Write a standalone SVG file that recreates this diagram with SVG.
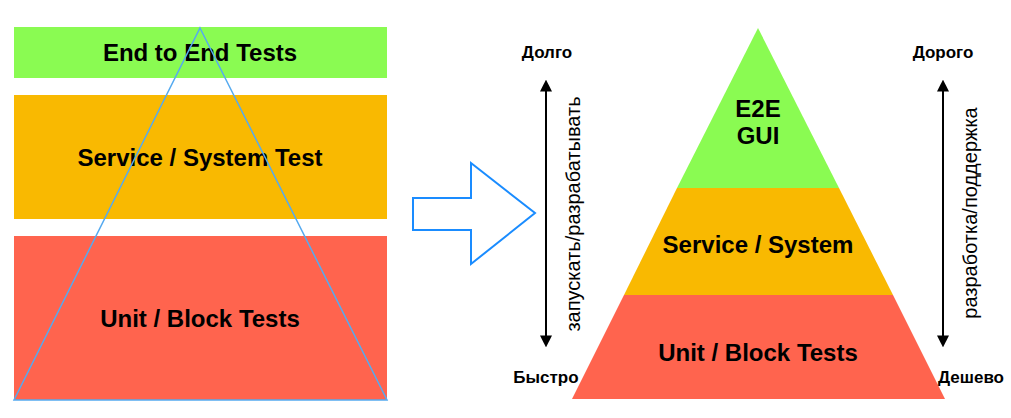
<svg xmlns="http://www.w3.org/2000/svg" width="1011" height="418" viewBox="0 0 1011 418">
<style>
.t{font-family:"Liberation Sans",Arial,sans-serif;font-weight:bold;fill:#000;text-anchor:middle}
.big{font-size:24px}
.lab{font-size:17px}
.rot{font-family:"Liberation Sans",Arial,sans-serif;font-size:20px;fill:#000;text-anchor:middle}
.g{fill:#8afb52}.o{fill:#f9b901}.r{fill:#ff644e}
</style>
<defs>
<marker id="ah" viewBox="0 0 10 10" refX="8" refY="5" markerWidth="6" markerHeight="6" orient="auto-start-reverse">
<path d="M0,0 L10,5 L0,10 z" fill="#000"/>
</marker>
</defs>
<rect width="1011" height="418" fill="#fff"/>
<g id="left-e2e"><rect class="g" x="14" y="27" width="373" height="51"/><text class="t big" x="200" y="61">End to End Tests</text></g>
<g id="left-service"><rect class="o" x="14" y="95" width="373" height="124"/><text class="t big" x="200" y="166">Service / System Test</text></g>
<g id="left-unit"><rect class="r" x="14" y="236" width="373" height="164"/><text class="t big" x="200" y="327">Unit / Block Tests</text></g>
<g id="left-triangle"><polygon points="200,28 387,400 14,400" fill="none" stroke="#55aaf0" stroke-width="1.5"/></g>
<g id="block-arrow"><polygon points="413,198 471,198 471,163 535,213 471,264 471,230 413,230" fill="#fff" stroke="#1a8cff" stroke-width="2"/></g>
<g id="right-e2e"><polygon class="g" points="758,28 839,188 677,188"/><text class="t big" x="758" y="117">E2E</text><text class="t big" x="758" y="144">GUI</text></g>
<g id="right-service"><polygon class="o" points="677,188 839,188 893,295 624,295"/><text class="t big" x="758" y="253">Service / System</text></g>
<g id="right-unit"><polygon class="r" points="624,295 893,295 945,399 572,399"/><text class="t big" x="758" y="361">Unit / Block Tests</text></g>
<g id="connectors">
<line x1="546" y1="82" x2="546" y2="345" stroke="#000" stroke-width="2" marker-start="url(#ah)" marker-end="url(#ah)"/>
<line x1="943" y1="82" x2="943" y2="345" stroke="#000" stroke-width="2" marker-start="url(#ah)" marker-end="url(#ah)"/>
</g>
<g id="labels">
<text class="t lab" x="547" y="58">Долго</text>
<text class="t lab" x="546" y="383">Быстро</text>
<text class="t lab" x="943" y="58">Дорого</text>
<text class="t lab" x="971" y="383">Дешево</text>
<text class="rot" transform="translate(580,214) rotate(-90)">запускать/разрабатывать</text>
<text class="rot" transform="translate(977,213) rotate(-90)">разработка/поддержка</text>
</g>
</svg>
